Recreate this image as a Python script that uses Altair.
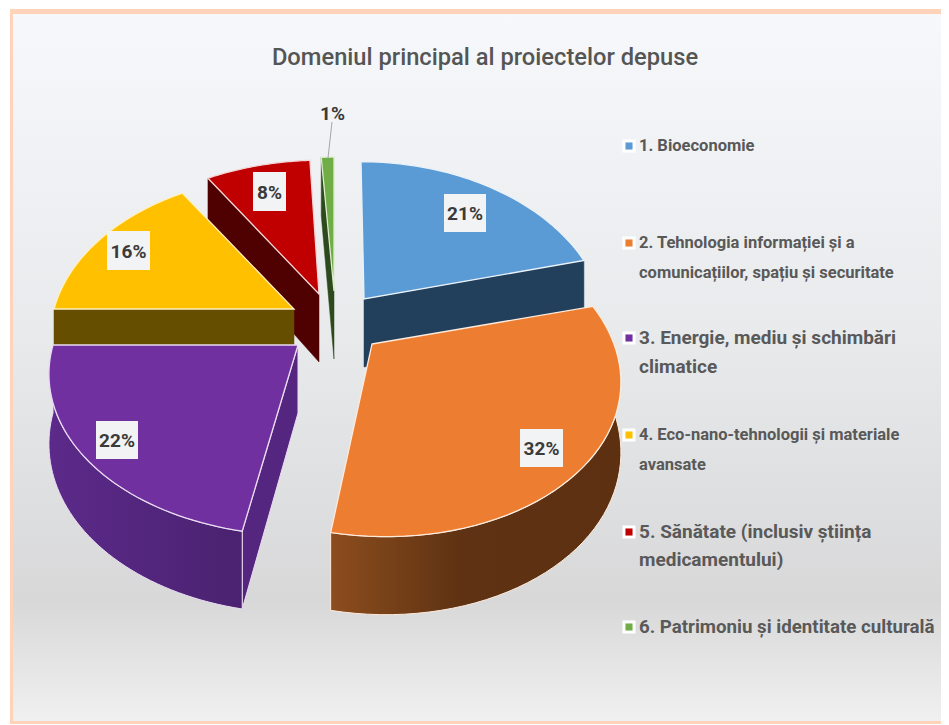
import math
import altair as alt

# ---- data
title_text = "Domeniul principal al proiectelor depuse"
categories = ["1. Bioeconomie",
              "2. Tehnologia informației și a comunicațiilor, spațiu și securitate",
              "3. Energie, mediu și schimbări climatice",
              "4. Eco-nano-tehnologii și materiale avansate",
              "5. Sănătate (inclusiv știința medicamentului)",
              "6. Patrimoniu și identitate culturală"]
legend_lines = [["1. Bioeconomie"],
                ["2. Tehnologia informației și a", "comunicațiilor, spațiu și securitate"],
                ["3. Energie, mediu și schimbări", "climatice"],
                ["4. Eco-nano-tehnologii și materiale", "avansate"],
                ["5. Sănătate (inclusiv știința", "medicamentului)"],
                ["6. Patrimoniu și identitate culturală"]]
values = [21, 32, 22, 16, 8, 1]
labels = ["21%", "32%", "22%", "16%", "8%", "1%"]

# ---- styling and layout (page pixels)
top_colors = ["#5B9BD5", "#ED7D31", "#7030A0", "#FFC000", "#C00000", "#70AD47"]
wall_colors = ["#22405C", None, "#55267F", "#664E00", "#4F0000", "#2D4A1C"]
rim_colors = ["#EAF2FA", "#FDEBDD", "#EADCF2", "#FFF0C0", "#F5D5D5", "#DDEBD0"]
apex = [(364, 299), (372, 344), (298, 345), (294, 309), (319, 294), (334, 291)]
skew = [-3, -14, 0, 0, 4, 0]
RX = [238, 242, 245, 240, 246, 240]
RY = [162, 158, 156, 158, 158, 158]
K = 0.18

W, H = 933, 716
XS = alt.Scale(domain=[8, 8 + W], nice=False, zero=False)
YS = alt.Scale(domain=[8 + H, 8], nice=False, zero=False)
X = lambda f: alt.X(f, type="quantitative", scale=XS, axis=None)
Y = lambda f: alt.Y(f, type="quantitative", scale=YS, axis=None)


def rim(i, t, drop=False):
    s, c = math.sin(t), math.cos(t)
    d = 1 + K * c
    x = apex[i][0] + RX[i] * s / d + skew[i] * c
    y = apex[i][1] - RY[i] * c / d
    if drop:
        y += 68 - 10 * c
    return x, y


def poly(points, **mark):
    rows = [{"x": p[0], "y": p[1], "i": n} for n, p in enumerate(points)]
    return alt.Chart(alt.Data(values=rows)).mark_line(interpolate="linear-closed", **mark).encode(
        x=X("x"), y=Y("y"), order=alt.Order("i:Q"))


def arc_pts(i, t0, t1, drop=False, n=48):
    return [rim(i, t0 + (t1 - t0) * j / n, drop) for j in range(n + 1)]


def radial_wall(i, t):
    a = apex[i]
    p = rim(i, t)
    q = rim(i, t, True)
    return [a, p, q, (a[0], a[1] + 68)]


angles = []
acc = 0
for v in values:
    angles.append((acc / 100 * 2 * math.pi, (acc + v) / 100 * 2 * math.pi))
    acc += v

layers = []

# background panel
bg_rows = [{"x": 10, "x2": 8 + W, "y": 9, "y2": 724}]
layers.append(alt.Chart(alt.Data(values=bg_rows)).mark_rect(color="#FFD3BA").encode(
    x=X("x"), x2="x2:Q", y=Y("y"), y2="y2:Q"))
inner_rows = [{"x": 13, "x2": 8 + W, "y": 14, "y2": 721}]
layers.append(alt.Chart(alt.Data(values=inner_rows)).mark_rect(
    fill=alt.Gradient(gradient="linear", x1=0, y1=0, x2=0, y2=1, stops=[
        alt.GradientStop(color="#F6F8FB", offset=0),
        alt.GradientStop(color="#E8EAEC", offset=0.45),
        alt.GradientStop(color="#D8D8D9", offset=0.83),
        alt.GradientStop(color="#F0F0F0", offset=1)])).encode(
    x=X("x"), x2="x2:Q", y=Y("y"), y2="y2:Q"))


def top_face(i):
    t0, t1 = angles[i]
    return poly([apex[i]] + arc_pts(i, t0, t1), fill=top_colors[i], stroke=rim_colors[i], strokeWidth=1.3)


wall_grad = {
    1: alt.Gradient(gradient="linear", x1=0, y1=0, x2=1, y2=0, stops=[
        alt.GradientStop(color="#8C4D1E", offset=0),
        alt.GradientStop(color="#5E3212", offset=0.45),
        alt.GradientStop(color="#5C3010", offset=1)]),
    2: alt.Gradient(gradient="linear", x1=0, y1=0, x2=1, y2=0, stops=[
        alt.GradientStop(color="#5C2A8A", offset=0),
        alt.GradientStop(color="#4A2270", offset=1)]),
}


def outer_wall(i):
    t0, t1 = angles[i]
    pts = arc_pts(i, t0, t1) + list(reversed(arc_pts(i, t0, t1, True)))
    return poly(pts, fill=wall_grad[i], stroke=rim_colors[i], strokeWidth=1.0)


# painter's order, far slices first
# green
layers.append(poly(radial_wall(5, angles[5][0]), fill=wall_colors[5], stroke=wall_colors[5], strokeWidth=0.5))
layers.append(top_face(5))
# red
layers.append(poly(radial_wall(4, angles[4][0]), fill=wall_colors[4], stroke=wall_colors[4], strokeWidth=0.5))
layers.append(top_face(4))
# yellow
layers.append(poly(radial_wall(3, angles[3][0]), fill=wall_colors[3], stroke=wall_colors[3], strokeWidth=0.5))
layers.append(top_face(3))
# blue
layers.append(poly(radial_wall(0, angles[0][1]), fill=wall_colors[0], stroke=wall_colors[0], strokeWidth=0.5))
layers.append(top_face(0))
# orange
layers.append(outer_wall(1))
layers.append(top_face(1))
# purple
layers.append(poly(radial_wall(2, angles[2][0]), fill=wall_colors[2], stroke=rim_colors[2], strokeWidth=1.0))
layers.append(outer_wall(2))
layers.append(top_face(2))

# leader line of the 1% label
leader = [{"x": 332, "y": 122, "x2": 328, "y2": 158}]
layers.append(alt.Chart(alt.Data(values=leader)).mark_rule(color="#A6A6A6", strokeWidth=1).encode(
    x=X("x"), x2="x2:Q", y=Y("y"), y2="y2:Q"))

# data labels
label_box = [(444, 486, 194, 232), (520, 563, 429, 467), (96, 138, 421, 459),
             (107, 150, 231, 270), (253, 286, 172, 211), (318, 347, 97, 128)]
label_rows = [{"t": t, "x": b[0], "x2": b[1], "y": b[2], "y2": b[3],
               "cx": (b[0] + b[1]) / 2, "cy": (b[2] + b[3]) / 2 + 1}
              for t, b in zip(labels, label_box)]
layers.append(alt.Chart(alt.Data(values=label_rows[:5])).mark_rect(color="#F2F3F4").encode(
    x=X("x"), x2="x2:Q", y=Y("y"), y2="y2:Q"))
layers.append(alt.Chart(alt.Data(values=label_rows)).mark_text(
    font="Roboto", fontWeight="bold", fontSize=19, color="#3A3A3A", baseline="middle", align="center"
).encode(x=X("cx"), y=Y("cy"), text="t:N"))

# title
layers.append(alt.Chart(alt.Data(values=[{"x": 485, "y": 58, "t": title_text}])).mark_text(
    font="Roboto", fontWeight=500, fontSize=23.7, color="#555555", baseline="middle", align="center"
).encode(x=X("x"), y=Y("y"), text="t:N"))

# legend
legend_y = [146, 243, 338, 435, 532, 627]
legend_size = [16.5, 16.5, 19, 16.5, 19, 18.7]
line_gap = [0, 30, 29, 30, 28, 0]
legend_rows = []
key_rows = []
for n, lines in enumerate(legend_lines):
    key_rows.append({"x": 629, "y": legend_y[n], "c": top_colors[n], "cat": categories[n]})
    for m, line in enumerate(lines):
        legend_rows.append({"x": 639, "y": legend_y[n] + m * line_gap[n], "t": line, "s": legend_size[n]})
layers.append(alt.Chart(alt.Data(values=key_rows)).mark_point(shape="square", filled=True, color="white", size=170, opacity=1).encode(
    x=X("x"), y=Y("y")))
layers.append(alt.Chart(alt.Data(values=key_rows)).mark_point(shape="square", filled=True, size=50, opacity=1).encode(
    x=X("x"), y=Y("y"), color=alt.Color("c:N", scale=None)))
layers.append(alt.Chart(alt.Data(values=legend_rows)).mark_text(
    font="Roboto", fontWeight="bold", color="#595959", baseline="middle", align="left"
).encode(x=X("x"), y=Y("y"), text="t:N", size=alt.Size("s:Q", scale=None, legend=None)))

chart = alt.layer(*layers).properties(
    width=W, height=H, padding=0, autosize=alt.AutoSizeParams(type="none"),
    background="white").configure_view(stroke=None)

chart.save("out.html", embed_options={"renderer": "svg", "actions": False})
